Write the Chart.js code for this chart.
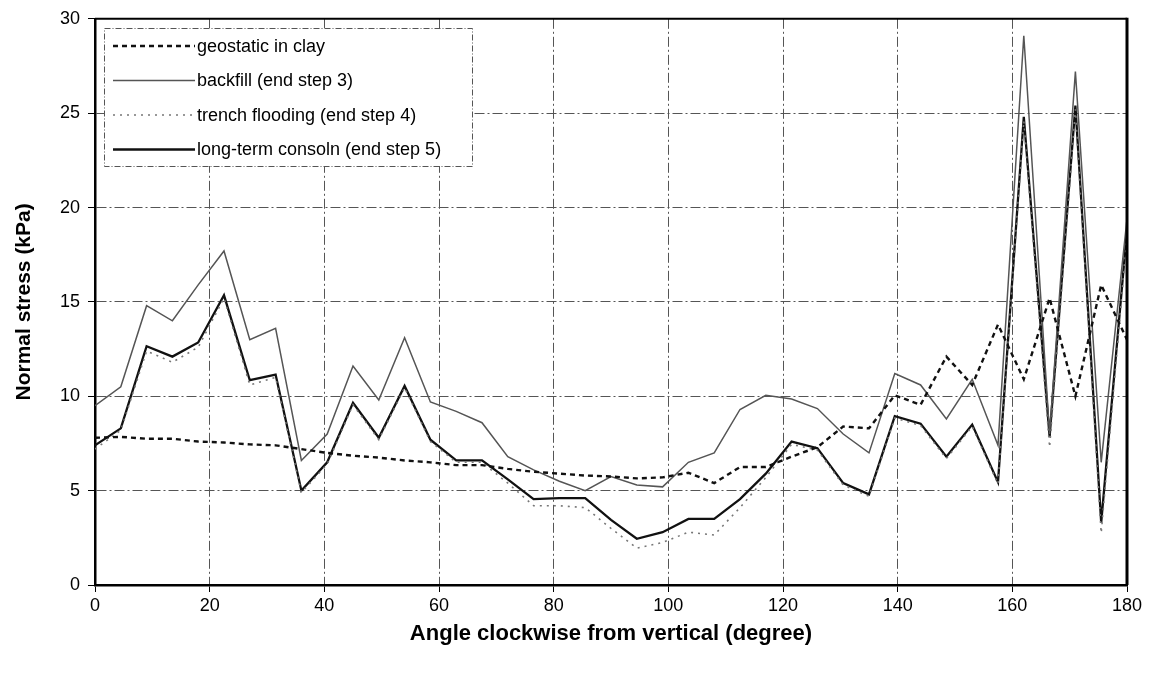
<!DOCTYPE html>
<html>
<head>
<meta charset="utf-8">
<title>Normal stress around pipe</title>
<script src="https://cdn.jsdelivr.net/npm/chart.js@4.4.0/dist/chart.umd.min.js"></script>
<style>
  html, body { margin: 0; padding: 0; background: #fff; }
</style>
</head>
<body>
<canvas id="stressChart" width="1156" height="677"></canvas>
<script>
// angle around the pipe, degrees clockwise from crown
const angles = [0, 4.5, 9, 13.5, 18, 22.5, 27, 31.5, 36, 40.5,
  45, 49.5, 54, 58.5, 63, 67.5, 72, 76.5, 81, 85.5,
  90, 94.5, 99, 103.5, 108, 112.5, 117, 121.5, 126, 130.5,
  135, 139.5, 144, 148.5, 153, 157.5, 162, 166.5, 171, 175.5, 180];

// normal stress, kPa
const geostatic = [7.8, 7.85, 7.75, 7.75, 7.6, 7.55, 7.45, 7.4, 7.2, 7.0,
  6.85, 6.75, 6.6, 6.5, 6.35, 6.35, 6.15, 6.0, 5.9, 5.8,
  5.75, 5.65, 5.7, 5.95, 5.4, 6.25, 6.25, 6.8, 7.3, 8.4,
  8.3, 10.05, 9.55, 12.1, 10.6, 13.8, 10.9, 15.2, 10.0, 15.9, 13.0];

const backfill = [9.5, 10.5, 14.8, 14.0, 15.9, 17.7, 13.0, 13.6, 6.6, 8.0,
  11.6, 9.8, 13.1, 9.7, 9.2, 8.6, 6.8, 6.1, 5.5, 5.0,
  5.75, 5.3, 5.2, 6.5, 7.0, 9.3, 10.05, 9.85, 9.35, 8.0,
  7.0, 11.2, 10.6, 8.8, 10.9, 7.4, 29.1, 8.0, 27.2, 6.5, 19.4];

const flooding = [7.2, 8.2, 12.4, 11.8, 12.6, 15.2, 10.6, 11.0, 4.9, 6.4,
  9.55, 7.7, 10.45, 7.6, 6.5, 6.5, 5.4, 4.2, 4.2, 4.1,
  3.0, 1.95, 2.25, 2.8, 2.65, 4.1, 5.7, 7.45, 7.15, 5.3,
  4.7, 8.85, 8.45, 6.7, 8.4, 5.35, 24.6, 7.3, 25.2, 2.75, 18.5];

const consoln = [7.4, 8.3, 12.65, 12.1, 12.85, 15.35, 10.85, 11.15, 5.0, 6.5,
  9.65, 7.8, 10.55, 7.7, 6.6, 6.6, 5.6, 4.55, 4.6, 4.6,
  3.45, 2.45, 2.8, 3.5, 3.5, 4.55, 5.9, 7.6, 7.25, 5.4,
  4.8, 8.95, 8.55, 6.8, 8.5, 5.45, 24.8, 7.85, 25.4, 3.3, 18.8];

const xTicks = [0, 20, 40, 60, 80, 100, 120, 140, 160, 180];
const yTicks = [0, 5, 10, 15, 20, 25, 30];

const FONT = '"Liberation Sans", Arial, sans-serif';

const pts = vals => vals.map((v, i) => ({ x: angles[i], y: v }));

// legend drawn inside the plot, upper left
const boxLegend = {
  id: 'boxLegend',
  afterDraw(chart) {
    const { ctx } = chart;
    const x0 = 104, y0 = 28, w = 368, h = 138;
    ctx.save();
    ctx.fillStyle = '#fff';
    ctx.fillRect(x0, y0, w, h);
    ctx.strokeStyle = '#555';
    ctx.lineWidth = 1;
    ctx.setLineDash([6, 2, 1, 2]);
    ctx.strokeRect(x0 + 0.5, y0 + 0.5, w, h);
    chart.data.datasets.forEach((ds, i) => {
      const y = y0 + 18 + i * 34.5;
      ctx.setLineDash(ds.borderDash || []);
      ctx.strokeStyle = ds.borderColor;
      ctx.lineWidth = ds.borderWidth;
      ctx.beginPath();
      ctx.moveTo(x0 + 9, y);
      ctx.lineTo(x0 + 91, y);
      ctx.stroke();
      ctx.setLineDash([]);
      ctx.fillStyle = '#000';
      ctx.font = '18px ' + FONT;
      ctx.textBaseline = 'middle';
      ctx.fillText(ds.label, x0 + 93, y + 1);
    });
    ctx.restore();
  }
};

// closes the plot frame on top and right
const plotFrame = {
  id: 'plotFrame',
  afterDatasetsDraw(chart) {
    const { ctx, chartArea: a } = chart;
    ctx.save();
    ctx.strokeStyle = '#000';
    ctx.lineWidth = 2;
    ctx.beginPath();
    ctx.moveTo(a.left, a.top);
    ctx.lineTo(a.right, a.top);
    ctx.stroke();
    ctx.lineWidth = 3;
    ctx.beginPath();
    ctx.moveTo(a.right, a.top - 1);
    ctx.lineTo(a.right, a.bottom);
    ctx.stroke();
    ctx.restore();
  }
};

const gridOpts = {
  color: '#555',
  lineWidth: 1,
  tickColor: '#000',
  tickLength: 7,
  tickWidth: 1
};

new Chart(document.getElementById('stressChart'), {
  type: 'line',
  data: {
    datasets: [
      { label: 'geostatic in clay', data: pts(geostatic), borderColor: '#111', borderWidth: 2.4, borderDash: [5, 4] },
      { label: 'backfill (end step 3)', data: pts(backfill), borderColor: '#555', borderWidth: 1.5 },
      { label: 'trench flooding (end step 4)', data: pts(flooding), borderColor: '#777', borderWidth: 1.6, borderDash: [2, 5] },
      { label: 'long-term consoln (end step 5)', data: pts(consoln), borderColor: '#111', borderWidth: 2.3 }
    ]
  },
  options: {
    responsive: false,
    animation: false,
    devicePixelRatio: 1,
    layout: { padding: { top: 18, right: 29, left: 0, bottom: 0 } },
    elements: { point: { radius: 0 }, line: { tension: 0 } },
    plugins: { legend: { display: false }, tooltip: { enabled: false } },
    scales: {
      x: {
        type: 'linear',
        min: 0,
        max: 180,
        afterBuildTicks: s => { s.ticks = xTicks.map(v => ({ value: v })); },
        afterFit: s => { s.height = 92; },
        ticks: { color: '#000', font: { family: FONT, size: 18 }, padding: 3, maxRotation: 0 },
        grid: gridOpts,
        border: { color: '#000', width: 2.5, dash: [10, 3, 2, 3] },
        title: {
          display: true,
          text: 'Angle clockwise from vertical (degree)',
          color: '#000',
          font: { family: FONT, size: 22, weight: 'bold' },
          padding: { top: 0, bottom: 30 }
        }
      },
      y: {
        min: 0,
        max: 30,
        afterBuildTicks: s => { s.ticks = yTicks.map(v => ({ value: v })); },
        afterFit: s => { s.width = 95; },
        ticks: { color: '#000', font: { family: FONT, size: 18 }, padding: 8 },
        grid: gridOpts,
        border: { color: '#000', width: 2.5, dash: [10, 3, 2, 3] },
        title: {
          display: true,
          text: 'Normal stress (kPa)',
          color: '#000',
          font: { family: FONT, size: 21, weight: 'bold' },
          padding: { top: 12, bottom: 0 }
        }
      }
    }
  },
  plugins: [boxLegend, plotFrame]
});
</script>
</body>
</html>
